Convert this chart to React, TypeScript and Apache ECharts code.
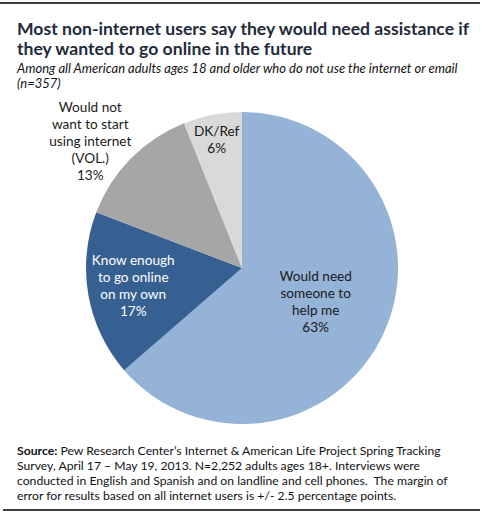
import React, { useEffect, useRef } from "react";
import * as echarts from "echarts";

const categories = [
  "Would need\nsomeone to\nhelp me",
  "Know enough\nto go online\non my own",
  "Would not\nwant to start\nusing internet\n(VOL.)",
  "DK/Ref",
];
const values = [63, 17, 13, 6];
const colors = ["#95B3D7", "#376092", "#A6A6A6", "#D9D9D9"];
const labelColors = ["#1a1a1a", "#ffffff", "#1a1a1a", "#1a1a1a"];
const labelOffsets: [number, number][] = [
  [0, 0],
  [-29, 3],
  [-94, -70],
  [-10, -49],
];

const FONT = "Lato, 'Open Sans', sans-serif";

export default function App() {
  const ref = useRef<HTMLDivElement>(null);
  useEffect(() => {
    document.body.style.margin = "0";
    const chart = echarts.init(ref.current!, undefined, { renderer: "svg" });
    chart.setOption({
      animation: false,
      backgroundColor: "#ffffff",
      title: [
        {
          text: "Most non-internet users say they would need assistance if\nthey wanted to go online in the future",
          left: 12,
          top: 13,
          textStyle: {
            fontFamily: FONT,
            fontWeight: "bold",
            fontSize: 17.6,
            lineHeight: 20,
            color: "#232b3a",
          },
        },
        {
          text: "Among all American adults ages 18 and older who do not use the internet or email\n(n=357)",
          left: 12,
          top: 55,
          textStyle: {
            fontFamily: FONT,
            fontStyle: "italic",
            fontWeight: "normal",
            fontSize: 13,
            lineHeight: 15,
            color: "#111",
          },
        },
        {
          text:
            "{b|Source:} Pew Research Center\u2019s Internet & American Life Project Spring Tracking\nSurvey, April 17 \u2013 May 19, 2013. N=2,252 adults ages 18+. Interviews were\nconducted in English and Spanish and on landline and cell phones.  The margin of\nerror for results based on all internet users is +/- 2.5 percentage points.",
          left: 12,
          top: 438,
          textStyle: {
            fontFamily: FONT,
            fontWeight: "normal",
            fontSize: 12.2,
            lineHeight: 15,
            color: "#111",
            rich: {
              b: {
                fontFamily: FONT,
                fontWeight: "bold",
                fontSize: 12.2,
                lineHeight: 15,
                color: "#111",
              },
            },
          },
        },
      ],
      graphic: [
        {
          type: "line",
          shape: { x1: 0, y1: 3, x2: 480, y2: 3 },
          style: { stroke: "#000", lineWidth: 1.5 },
        },
        {
          type: "line",
          shape: { x1: 3, y1: 510, x2: 480, y2: 510 },
          style: { stroke: "#000", lineWidth: 1.5 },
        },
      ],
      series: [
        {
          type: "pie",
          center: [242, 268],
          radius: 156,
          startAngle: 90,
          clockwise: true,
          avoidLabelOverlap: false,
          labelLine: { show: false },
          itemStyle: { borderWidth: 0 },
          emphasis: { disabled: true },
          data: values.map((v, i) => ({
            value: v,
            name: categories[i],
            itemStyle: { color: colors[i] },
            label: {
              show: true,
              position: "inside",
              formatter: "{b}\n{c}%",
              color: labelColors[i],
              fontFamily: FONT,
              fontSize: 13.6,
              lineHeight: 17,
              align: "center",
              offset: labelOffsets[i],
            },
          })),
        },
      ],
    });
    return () => chart.dispose();
  }, []);
  return <div ref={ref} style={{ width: 495, height: 519 }} />;
}
